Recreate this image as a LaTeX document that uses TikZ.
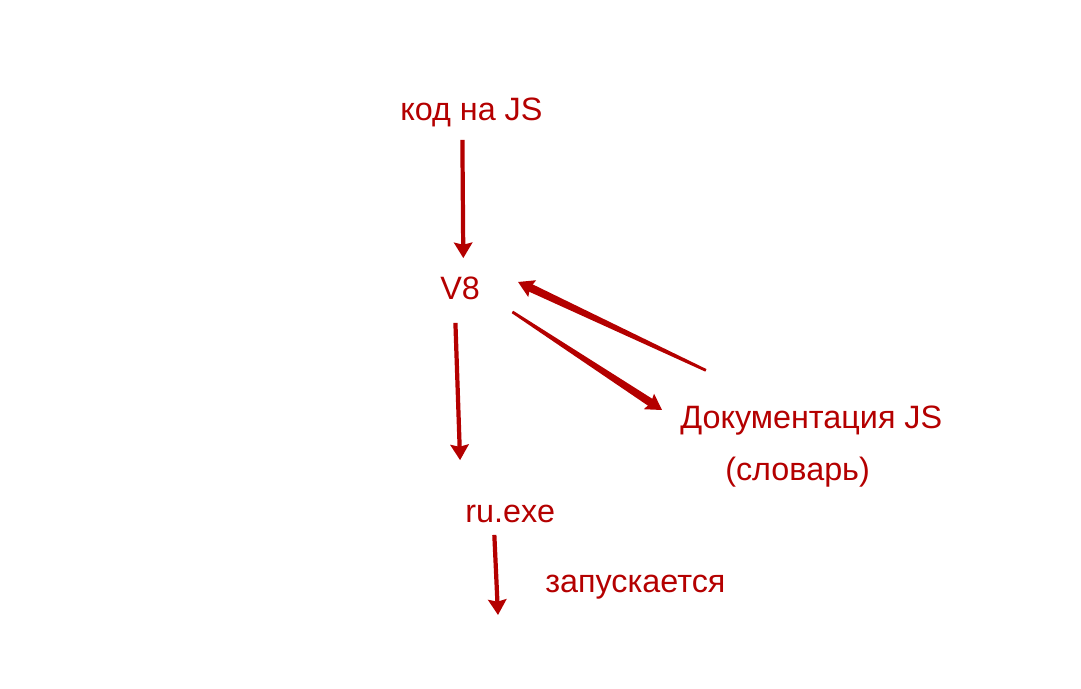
\documentclass[tikz,border=0pt]{standalone}
\usepackage{fontspec}
\setmainfont{Liberation Sans}
\usetikzlibrary{arrows.meta,calc}
\definecolor{vermelho}{RGB}{180,0,0}
\newcommand{\setafina}[2]{% seta afinada de #1 para #2
	\fill[vermelho] ($(#1)!1pt!90:(#2)$) -- ($($(#2)!9pt!(#1)$)!2.9pt!-90:(#1)$) -- ($($(#2)!9pt!(#1)$)!2.9pt!90:(#1)$) -- ($(#1)!1pt!-90:(#2)$) -- cycle;
	\draw[seta,line width=1pt] (#1) -- (#2);}
\begin{document}
\begin{tikzpicture}[x=0.025cm,y=-0.025cm,  %Escala em pixels
	texto/.style={anchor=base west,inner sep=0pt,text=vermelho,font=\fontsize{23}{28}\selectfont},
	seta/.style={-{Stealth[length=11pt,width=13pt,inset=1.5pt]},line width=3pt,draw=vermelho}]
	\useasboundingbox (0,0) rectangle (1081,689); %Tamanho da figura
						%Textos
					\node[texto] (kod) at (400,121){код на JS};
					\node[texto] (v8) at (440,300){V8};
					\node[texto] (doc) at (680,428){Документация JS};
					\node[texto] (slovar) at (725,480){(словарь)};
					\node[texto] (ru) at (465,522){ru.exe};
					\node[texto] (zapusk) at (545,592){запускается};
					\coordinate (fim) at (498,615); %Ponta da ultima seta
						%Pontas das setas diagonais
					\coordinate (ida1) at ([xshift=23pt,yshift=-8.5pt]v8.base east);
					\coordinate (ida2) at ([xshift=-12.8pt,yshift=12.8pt]doc.base west);
					\coordinate (volta1) at ([xshift=18.4pt,yshift=41pt]doc.base west);
					\coordinate (volta2) at ([xshift=27pt,yshift=12.8pt]v8.base east);
						%Setas
					\draw[seta] ([xshift=-6.4pt,yshift=-13.5pt]kod.base) -- ([xshift=2.3pt,yshift=29.8pt]v8.base); %JS para V8
					\draw[seta] ([xshift=-3.3pt,yshift=-16.3pt]v8.base) -- ([xshift=-3.5pt,yshift=44pt]ru.base west); %V8 para exe
					\setafina{ida1}{ida2} %V8 para documentacao
					\setafina{volta1}{volta2} %Documentacao para V8
					\draw[seta] ([xshift=-11.3pt,yshift=-9.2pt]ru.base) -- (fim); %Exe
\end{tikzpicture}
\end{document}
